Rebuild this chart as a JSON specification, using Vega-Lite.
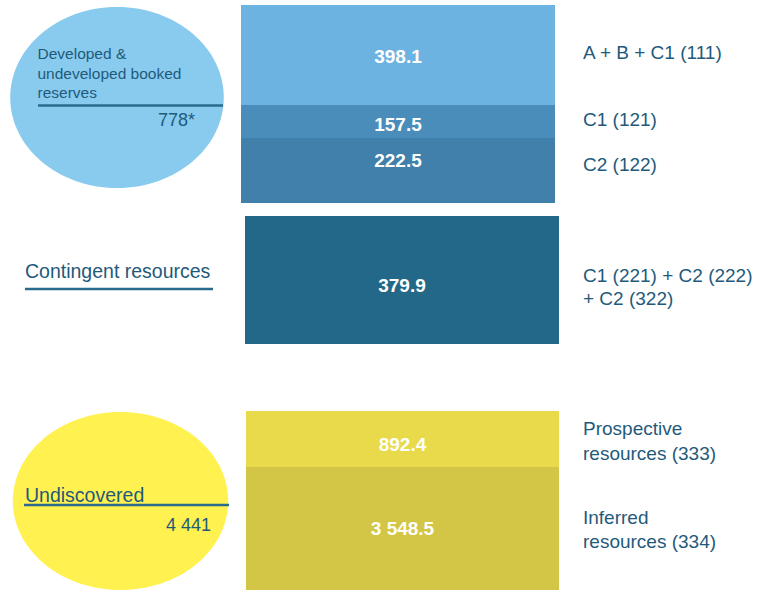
{
  "$schema": "https://vega.github.io/schema/vega-lite/v6.json",
  "width": 758,
  "height": 590,
  "autosize": {"type": "fit", "contains": "padding"},
  "padding": 0,
  "background": "white",
  "config": {"view": {"stroke": null}, "text": {"font": "Liberation Sans"}},
  "datasets": {
    "reservesEllipse": [{"group": "Developed & undeveloped booked reserves", "total": 778, "cx": 117, "cy": 97.5}],
    "undiscoveredEllipse": [{"group": "Undiscovered", "total": 4441, "cx": 120.5, "cy": 501}],
    "boxes": [
      {"item": "A + B + C1 (111)", "value": 398.1, "label": "398.1", "left": 241, "right": 555, "top": 5, "bottom": 105, "labelY": 63},
      {"item": "C1 (121)", "value": 157.5, "label": "157.5", "left": 241, "right": 555, "top": 105, "bottom": 138, "labelY": 130.5},
      {"item": "C2 (122)", "value": 222.5, "label": "222.5", "left": 241, "right": 555, "top": 138, "bottom": 203, "labelY": 166.5},
      {"item": "C1 (221) + C2 (222) + C2 (322)", "value": 379.9, "label": "379.9", "left": 245, "right": 559, "top": 216, "bottom": 344, "labelY": 292},
      {"item": "Prospective resources (333)", "value": 892.4, "label": "892.4", "left": 246, "right": 559, "top": 411, "bottom": 467, "labelY": 451},
      {"item": "Inferred resources (334)", "value": 3548.5, "label": "3 548.5", "left": 246, "right": 559, "top": 467, "bottom": 590, "labelY": 534.5}
    ],
    "smallLeft": [
      {"text": "Developed &", "x": 37.5, "y": 59},
      {"text": "undeveloped booked", "x": 37.5, "y": 78.5},
      {"text": "reserves", "x": 37.5, "y": 97.5}
    ],
    "bigLeft": [
      {"text": "Contingent resources", "x": 25, "y": 278},
      {"text": "Undiscovered", "x": 25, "y": 502}
    ],
    "totals": [
      {"text": "778*", "x": 195, "y": 125.5},
      {"text": "4 441", "x": 211, "y": 531}
    ],
    "rightLabels": [
      {"text": "A + B + C1 (111)", "x": 583, "y": 59},
      {"text": "C1 (121)", "x": 583, "y": 126},
      {"text": "C2 (122)", "x": 583, "y": 171},
      {"text": "C1 (221) + C2 (222)", "x": 583, "y": 282},
      {"text": "+ C2 (322)", "x": 583, "y": 305},
      {"text": "Prospective", "x": 583, "y": 435},
      {"text": "resources (333)", "x": 583, "y": 460},
      {"text": "Inferred", "x": 583, "y": 524},
      {"text": "resources (334)", "x": 583, "y": 548}
    ],
    "underlines": [
      {"name": "reserves", "x": 38, "x2": 223, "y": 105.5},
      {"name": "contingent", "x": 25, "x2": 213, "y": 289},
      {"name": "undiscovered", "x": 24, "x2": 229, "y": 505}
    ]
  },
  "layer": [
    {
      "data": {"name": "reservesEllipse"},
      "mark": {"type": "point", "filled": true, "opacity": 1, "strokeWidth": 0, "color": "#89CBEE", "size": 32761,
        "shape": "M -1.18 0 C -1.18 -0.5523 -0.6517 -1 0 -1 C 0.6517 -1 1.18 -0.5523 1.18 0 C 1.18 0.5523 0.6517 1 0 1 C -0.6517 1 -1.18 0.5523 -1.18 0 Z"},
      "encoding": {
        "x": {"field": "cx", "type": "quantitative", "scale": {"domain": [0, 758], "nice": false, "zero": false}, "axis": null},
        "y": {"field": "cy", "type": "quantitative", "scale": {"domain": [0, 590], "nice": false, "zero": false, "reverse": true}, "axis": null}
      }
    },
    {
      "data": {"name": "undiscoveredEllipse"},
      "mark": {"type": "point", "filled": true, "opacity": 1, "strokeWidth": 0, "color": "#FFF150", "size": 31684,
        "shape": "M -1.21 0 C -1.21 -0.5523 -0.6683 -1 0 -1 C 0.6683 -1 1.21 -0.5523 1.21 0 C 1.21 0.5523 0.6683 1 0 1 C -0.6683 1 -1.21 0.5523 -1.21 0 Z"},
      "encoding": {
        "x": {"field": "cx", "type": "quantitative", "scale": {"domain": [0, 758], "nice": false, "zero": false}, "axis": null},
        "y": {"field": "cy", "type": "quantitative", "scale": {"domain": [0, 590], "nice": false, "zero": false, "reverse": true}, "axis": null}
      }
    },
    {
      "data": {"name": "boxes"},
      "mark": {"type": "rect", "strokeWidth": 0},
      "encoding": {
        "x": {"field": "left", "type": "quantitative", "scale": {"domain": [0, 758], "nice": false, "zero": false}, "axis": null},
        "x2": {"field": "right"},
        "y": {"field": "top", "type": "quantitative", "scale": {"domain": [0, 590], "nice": false, "zero": false, "reverse": true}, "axis": null},
        "y2": {"field": "bottom"},
        "color": {"field": "item", "type": "nominal", "legend": null,
          "scale": {"domain": ["A + B + C1 (111)", "C1 (121)", "C2 (122)", "C1 (221) + C2 (222) + C2 (322)", "Prospective resources (333)", "Inferred resources (334)"],
                    "range": ["#6CB3E1", "#4A8CBA", "#4080AA", "#246889", "#E8DA4A", "#D3C646"]}}
      }
    },
    {
      "data": {"name": "boxes"},
      "transform": [{"calculate": "(datum.left + datum.right) / 2", "as": "cx"}],
      "mark": {"type": "text", "align": "center", "baseline": "alphabetic", "fontWeight": "bold", "fontSize": 19, "color": "white"},
      "encoding": {
        "x": {"field": "cx", "type": "quantitative", "scale": {"domain": [0, 758], "nice": false, "zero": false}, "axis": null},
        "y": {"field": "labelY", "type": "quantitative", "scale": {"domain": [0, 590], "nice": false, "zero": false, "reverse": true}, "axis": null},
        "text": {"field": "label"}
      }
    },
    {
      "data": {"name": "underlines"},
      "mark": {"type": "rule", "color": "#2A6B8D", "strokeWidth": 2.5},
      "encoding": {
        "x": {"field": "x", "type": "quantitative", "scale": {"domain": [0, 758], "nice": false, "zero": false}, "axis": null},
        "x2": {"field": "x2"},
        "y": {"field": "y", "type": "quantitative", "scale": {"domain": [0, 590], "nice": false, "zero": false, "reverse": true}, "axis": null}
      }
    },
    {
      "data": {"name": "smallLeft"},
      "mark": {"type": "text", "align": "left", "baseline": "alphabetic", "fontSize": 15.5, "color": "#1F5A7B"},
      "encoding": {
        "x": {"field": "x", "type": "quantitative", "scale": {"domain": [0, 758], "nice": false, "zero": false}, "axis": null},
        "y": {"field": "y", "type": "quantitative", "scale": {"domain": [0, 590], "nice": false, "zero": false, "reverse": true}, "axis": null},
        "text": {"field": "text"}
      }
    },
    {
      "data": {"name": "bigLeft"},
      "mark": {"type": "text", "align": "left", "baseline": "alphabetic", "fontSize": 19.5, "color": "#1F5A7B"},
      "encoding": {
        "x": {"field": "x", "type": "quantitative", "scale": {"domain": [0, 758], "nice": false, "zero": false}, "axis": null},
        "y": {"field": "y", "type": "quantitative", "scale": {"domain": [0, 590], "nice": false, "zero": false, "reverse": true}, "axis": null},
        "text": {"field": "text"}
      }
    },
    {
      "data": {"name": "totals"},
      "mark": {"type": "text", "align": "right", "baseline": "alphabetic", "fontSize": 18, "color": "#1F5A7B"},
      "encoding": {
        "x": {"field": "x", "type": "quantitative", "scale": {"domain": [0, 758], "nice": false, "zero": false}, "axis": null},
        "y": {"field": "y", "type": "quantitative", "scale": {"domain": [0, 590], "nice": false, "zero": false, "reverse": true}, "axis": null},
        "text": {"field": "text"}
      }
    },
    {
      "data": {"name": "rightLabels"},
      "mark": {"type": "text", "align": "left", "baseline": "alphabetic", "fontSize": 19, "color": "#1F5A7B"},
      "encoding": {
        "x": {"field": "x", "type": "quantitative", "scale": {"domain": [0, 758], "nice": false, "zero": false}, "axis": null},
        "y": {"field": "y", "type": "quantitative", "scale": {"domain": [0, 590], "nice": false, "zero": false, "reverse": true}, "axis": null},
        "text": {"field": "text"}
      }
    }
  ]
}
